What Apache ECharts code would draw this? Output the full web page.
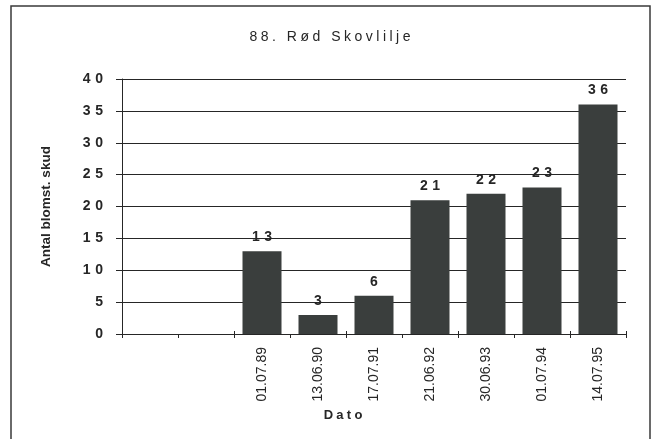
<!DOCTYPE html>
<html>
<head>
<meta charset="utf-8">
<script src="https://cdn.jsdelivr.net/npm/echarts@6/dist/echarts.min.js"></script>
<style>
  html, body { margin: 0; padding: 0; background: #fff; }
  #chart { width: 651px; height: 439px; }
</style>
</head>
<body>
<div id="chart"></div>
<script>
// Flowering shoots counted per survey date
const categories = ['', '', '01.07.89', '13.06.90', '17.07.91', '21.06.92', '30.06.93', '01.07.94', '14.07.95'];
const shoots = [null, null, 13, 3, 6, 21, 22, 23, 36];
const yTicks = [0, 5, 10, 15, 20, 25, 30, 35, 40];

const titleText = '88. Rød Skovlilje';
const xName = 'Dato';
const yName = 'Antal blomst. skud';

// widen the typewriter-like spacing between characters
const spread = (s, gap) => String(s).split('').join(gap || '\u2004');

const BAR = '#3a3e3d';
const INK = '#262626';
const FONT = '"Liberation Sans", Arial, sans-serif';

const chart = echarts.init(document.getElementById('chart'), null, { renderer: 'canvas' });

chart.setOption({
  backgroundColor: '#fff',
  animation: false,
  title: {
    text: spread(titleText, '\u2005'),
    left: 325, top: 25, textAlign: 'center',
    textStyle: { fontFamily: FONT, fontSize: 14, fontWeight: 'normal', color: INK }
  },
  graphic: [{
    type: 'rect',
    shape: { x: 11, y: 6, width: 639, height: 450 },
    style: { fill: 'none', stroke: '#3a3a3a', lineWidth: 1.5 },
    silent: true
  }],
  grid: { left: 122, right: 25, top: 79, bottom: 105 },
  xAxis: [{
    type: 'category',
    data: categories,
    name: spread(xName, '\u2005'),
    nameLocation: 'middle',
    nameGap: 72,
    nameTextStyle: {
      fontFamily: FONT, fontSize: 13, fontWeight: 'bold', color: INK,
      padding: [0, 62, 0, 0]
    },
    axisLine: { show: true, lineStyle: { color: INK, width: 1 } },
    axisTick: { show: true, alignWithLabel: false, length: 4, lineStyle: { color: INK } },
    axisLabel: {
      rotate: 90, interval: 0, margin: 13,
      fontFamily: FONT, fontSize: 14, color: INK
    },
    splitLine: { show: false }
  }, {
    // inner halves of the category ticks, so they cross the axis line
    type: 'category',
    data: categories,
    position: 'bottom',
    axisLine: { show: false },
    axisTick: { show: true, inside: true, length: 3, lineStyle: { color: INK } },
    axisLabel: { show: false },
    splitLine: { show: false }
  }],
  yAxis: {
    type: 'value',
    min: yTicks[0], max: yTicks[yTicks.length - 1], interval: 5,
    name: yName,
    nameLocation: 'middle',
    nameGap: 69,
    nameRotate: 90,
    nameTextStyle: { fontFamily: FONT, fontSize: 13.5, fontWeight: 'bold', color: INK },
    axisLine: { show: true, lineStyle: { color: INK, width: 1 } },
    axisTick: { show: true, length: 6, lineStyle: { color: INK } },
    axisLabel: {
      margin: 19,
      fontFamily: FONT, fontSize: 14, fontWeight: 'bold', color: INK,
      formatter: v => spread(v)
    },
    splitLine: { show: true, lineStyle: { color: INK, width: 1 } }
  },
  series: [{
    type: 'bar',
    data: shoots,
    barWidth: 39,
    itemStyle: { color: BAR },
    label: {
      show: true, position: 'top', distance: 7,
      fontFamily: FONT, fontSize: 14, fontWeight: 'bold', color: INK,
      formatter: p => spread(p.value)
    }
  }]
});
</script>
</body>
</html>
